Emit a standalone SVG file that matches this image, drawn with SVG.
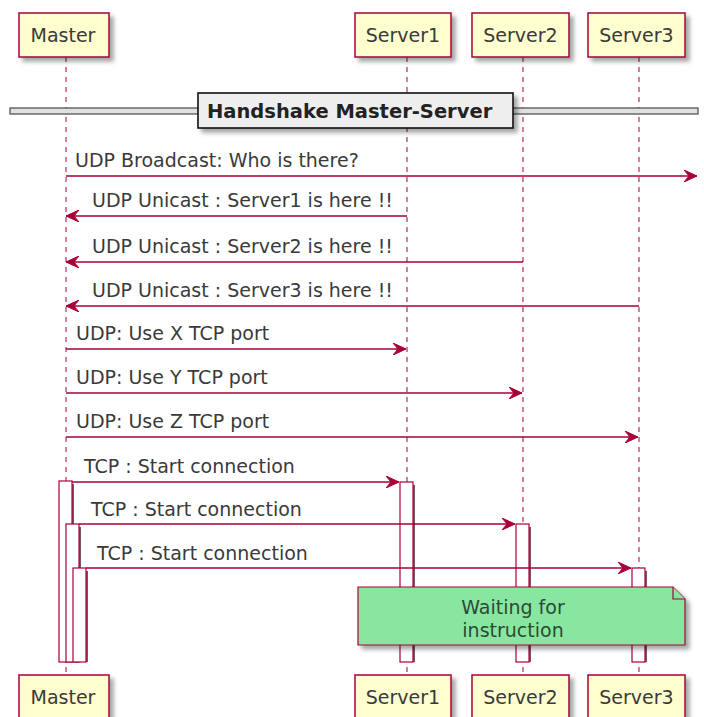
<svg xmlns="http://www.w3.org/2000/svg" width="704" height="717" viewBox="0 0 704 717">
  <style>
    .actor { fill: #FEFECE; stroke: #A80036; stroke-width: 1.5; filter: url(#shadow); }
    .actor-label { font-family: "DejaVu Sans", sans-serif; font-size: 19px; fill: #3a3a3a; text-anchor: middle; }
    .life { stroke: #A80036; stroke-width: 1; stroke-dasharray: 5 5; fill: none; }
    .msg { stroke: #A80036; stroke-width: 1.3; fill: none; marker-end: url(#head); }
    .msg-label { font-family: "DejaVu Sans", sans-serif; font-size: 19px; fill: #3a3a3a; }
    .bar { fill: #FFFFFF; stroke: #A80036; stroke-width: 1.2; }
    .bar-shadow { fill: #7a5562; }
    .sep-line { stroke: #555; stroke-width: 1.3; fill: #E0E0E0; }
    .sep-box { fill: #EEEEEE; stroke: #111; stroke-width: 1.6; filter: url(#shadow); }
    .sep-label { font-family: "DejaVu Sans", sans-serif; font-size: 19.5px; font-weight: bold; fill: #222; }
    .note { fill: #88E6A0; stroke: #A80036; stroke-width: 1.2; filter: url(#shadow); }
    .note-fold { fill: #88E6A0; stroke: #A80036; stroke-width: 1.2; }
    .note-label { font-family: "DejaVu Sans", sans-serif; font-size: 19px; fill: #2c4a36; text-anchor: middle; }
  </style>
  <defs>
    <filter id="shadow" x="-10%" y="-10%" width="130%" height="140%">
      <feDropShadow dx="4" dy="4" stdDeviation="2" flood-color="#000" flood-opacity="0.35"/>
    </filter>
    <marker id="head" viewBox="0 0 13 12" refX="13" refY="6" markerWidth="13" markerHeight="12" markerUnits="userSpaceOnUse" orient="auto">
      <path d="M13,6 L0,0 L5,6 L0,12 Z" fill="#A80036" stroke="#A80036" stroke-width="1"/>
    </marker>
  </defs>

  <!-- lifelines -->
  <g id="lifelines">
    <line class="life" x1="66" y1="57" x2="66" y2="675"/>
    <line class="life" x1="407" y1="57" x2="407" y2="675"/>
    <line class="life" x1="523" y1="57" x2="523" y2="675"/>
    <line class="life" x1="639" y1="57" x2="639" y2="675"/>
  </g>

  <!-- separator -->
  <g id="separator">
    <rect class="sep-line" x="10" y="108" width="688" height="6"/>
    <rect class="sep-box" x="198" y="93" width="315" height="35"/>
    <text class="sep-label" x="207" y="118">Handshake Master-Server</text>
  </g>

  <!-- participants -->
  <g id="master">
    <rect class="actor" x="19" y="13" width="90" height="44"/>
    <text class="actor-label" x="63" y="42">Master</text>
    <rect class="actor" x="19" y="675" width="90" height="46"/>
    <text class="actor-label" x="63" y="704">Master</text>
  </g>
  <g id="server1">
    <rect class="actor" x="355" y="13" width="96" height="44"/>
    <text class="actor-label" x="403" y="42">Server1</text>
    <rect class="actor" x="355" y="675" width="96" height="46"/>
    <text class="actor-label" x="403" y="704">Server1</text>
  </g>
  <g id="server2">
    <rect class="actor" x="472" y="13" width="97" height="44"/>
    <text class="actor-label" x="520.5" y="42">Server2</text>
    <rect class="actor" x="472" y="675" width="97" height="46"/>
    <text class="actor-label" x="520.5" y="704">Server2</text>
  </g>
  <g id="server3">
    <rect class="actor" x="588" y="13" width="97" height="44"/>
    <text class="actor-label" x="636.5" y="42">Server3</text>
    <rect class="actor" x="588" y="675" width="97" height="46"/>
    <text class="actor-label" x="636.5" y="704">Server3</text>
  </g>

  <!-- activation bars -->
  <g id="activations">
    <rect class="bar-shadow" x="62" y="484" width="12" height="178"/>
    <rect class="bar" x="59" y="481" width="13" height="181"/>
    <rect class="bar-shadow" x="69" y="527" width="12" height="135"/>
    <rect class="bar" x="66" y="524" width="13" height="138"/>
    <rect class="bar-shadow" x="76" y="571" width="12" height="91"/>
    <rect class="bar" x="73" y="568" width="13" height="94"/>

    <rect class="bar-shadow" x="403" y="485" width="12" height="177"/>
    <rect class="bar" x="400" y="482" width="13" height="180"/>
    <rect class="bar-shadow" x="519" y="527" width="12" height="135"/>
    <rect class="bar" x="516" y="524" width="13" height="138"/>
    <rect class="bar-shadow" x="635" y="571" width="12" height="91"/>
    <rect class="bar" x="632" y="568" width="13" height="94"/>
  </g>

  <!-- messages -->
  <g id="connectors">
    <line class="msg" x1="66" y1="176" x2="697" y2="176"/>
    <text class="msg-label" x="75" y="167">UDP Broadcast: Who is there?</text>

    <line class="msg" x1="407" y1="216" x2="66" y2="216"/>
    <text class="msg-label" x="92" y="207">UDP Unicast : Server1 is here !!</text>

    <line class="msg" x1="523" y1="262" x2="66" y2="262"/>
    <text class="msg-label" x="92" y="253">UDP Unicast : Server2 is here !!</text>

    <line class="msg" x1="639" y1="306" x2="66" y2="306"/>
    <text class="msg-label" x="92" y="297">UDP Unicast : Server3 is here !!</text>

    <line class="msg" x1="66" y1="349" x2="406" y2="349"/>
    <text class="msg-label" x="76" y="340">UDP: Use X TCP port</text>

    <line class="msg" x1="66" y1="393" x2="522" y2="393"/>
    <text class="msg-label" x="76" y="384">UDP: Use Y TCP port</text>

    <line class="msg" x1="66" y1="437" x2="638" y2="437"/>
    <text class="msg-label" x="76" y="428">UDP: Use Z TCP port</text>

    <line class="msg" x1="72" y1="482" x2="399" y2="482"/>
    <text class="msg-label" x="84" y="473">TCP : Start connection</text>

    <line class="msg" x1="79" y1="524" x2="515" y2="524"/>
    <text class="msg-label" x="91" y="516">TCP : Start connection</text>

    <line class="msg" x1="86" y1="568" x2="631" y2="568"/>
    <text class="msg-label" x="97" y="560">TCP : Start connection</text>
  </g>

  <!-- note across the servers -->
  <g id="note">
    <path class="note" d="M358,587 L673,587 L685,599 L685,645 L358,645 Z"/>
    <path class="note-fold" d="M673,587 L673,599 L685,599"/>
    <text class="note-label" x="513" y="614">Waiting for</text>
    <text class="note-label" x="513" y="637">instruction</text>
  </g>
</svg>
